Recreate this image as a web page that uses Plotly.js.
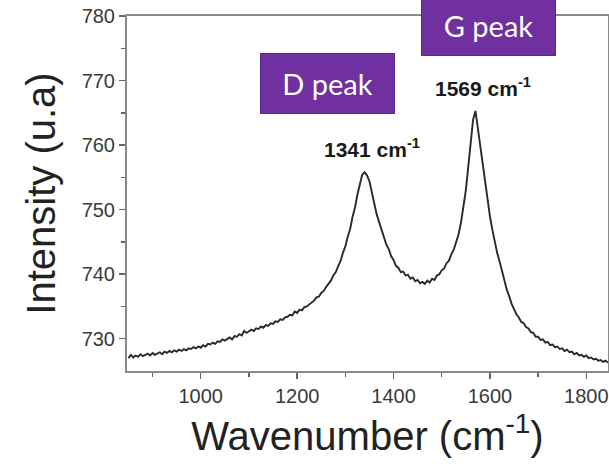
<!DOCTYPE html>
<html>
<head>
<meta charset="utf-8">
<script src="https://cdn.plot.ly/plotly-3.0.1.min.js"></script>
<style>html,body{margin:0;padding:0;background:#fff;}#chart{width:609px;height:466px;}</style>
</head>
<body>
<div id="chart"></div>
<script>
// Wavenumber axis (cm^-1), sampled every 5 cm^-1
const wavenumberStart = 850;
const wavenumberStep = 5;
const intensity = [
727.0,727.5,727.1,727.4,727.2,727.6,727.3,727.5,727.7,727.4,
727.8,727.5,727.7,727.9,727.6,728.0,727.8,728.1,727.9,728.2,
728.0,728.3,728.1,728.4,728.2,728.5,728.4,728.7,728.5,728.8,
728.6,729.0,728.8,729.2,729.1,729.4,729.2,729.6,729.5,729.9,
729.7,730.0,730.2,729.9,730.4,730.3,730.7,730.5,731.2,730.9,
731.1,731.4,731.2,731.6,731.5,731.9,731.7,732.1,732.0,732.4,
732.3,732.7,732.6,733.0,732.9,733.3,733.4,733.7,733.6,734.2,
734.0,734.5,734.4,734.9,735.0,735.3,735.7,735.9,736.4,736.5,
737.1,737.4,738.0,738.5,739.0,739.8,740.3,741.2,742.0,743.3,
744.3,745.8,747.0,748.9,750.3,752.3,754.0,755.4,755.8,755.3,
754.4,752.6,751.2,749.3,748.1,746.8,745.9,744.6,743.9,742.8,
742.2,741.3,741.0,740.3,740.4,739.8,739.9,739.3,739.5,738.9,
739.1,738.6,738.8,738.5,739.0,738.7,739.3,739.1,739.8,740.0,
740.6,740.9,741.7,742.1,743.1,743.8,745.0,746.2,748.0,750.2,
753.0,756.6,760.5,763.9,765.3,762.6,759.4,756.9,754.0,751.5,
749.0,746.9,745.0,743.3,742.0,740.4,739.2,737.6,736.6,735.4,
734.6,733.8,733.3,732.6,732.4,731.8,731.6,731.0,730.9,730.3,
730.3,729.8,729.9,729.4,729.5,729.0,729.1,728.7,728.8,728.4,
728.5,728.1,728.3,727.9,728.0,727.6,727.8,727.4,727.5,727.2,
727.4,727.0,727.1,726.8,726.9,726.6,726.7,726.4,726.6,726.3
];
const wavenumber = intensity.map((_, i) => wavenumberStart + i * wavenumberStep);

const xRange = [847, 1845];
const yRange = [725, 780];
const xTickVals = [1000, 1200, 1400, 1600, 1800];
const yTickVals = [730, 740, 750, 760, 770, 780];

const peakLabels = ["1341 cm<sup>-1</sup>", "1569 cm<sup>-1</sup>"];
const peakLabelX = [1356, 1586];
const peakLabelY = [759.6, 769.0];

const boxLabels = ["D peak", "G peak"];
const boxX = [1263, 1597];
const boxY = [769.5, 778.5];

const trace = {
  x: wavenumber,
  y: intensity,
  type: 'scatter',
  mode: 'lines',
  line: {color: '#2a2a2a', width: 1.9},
  hoverinfo: 'skip'
};

const axisCommon = {
  showline: true,
  linecolor: '#8a8a8a',
  linewidth: 2,
  mirror: true,
  showgrid: false,
  zeroline: false,
  ticks: 'outside',
  ticklen: 6,
  tickwidth: 1.5,
  tickcolor: '#666',
  tickfont: {family: 'Liberation Sans, Arial, sans-serif', size: 20, color: '#3a3a3a'},
};

const annotations = [];
for (let i = 0; i < peakLabels.length; i++) {
  annotations.push({
    x: peakLabelX[i], y: peakLabelY[i], xref: 'x', yref: 'y',
    text: peakLabels[i], showarrow: false,
    font: {family: 'Liberation Sans, Arial, sans-serif', size: 21, color: '#1a1a1a', weight: 'bold'},
    xanchor: 'center', yanchor: 'middle'
  });
}
for (let i = 0; i < boxLabels.length; i++) {
  annotations.push({
    x: boxX[i], y: boxY[i], xref: 'x', yref: 'y',
    text: boxLabels[i], showarrow: false,
    font: {family: 'Lato, Open Sans, sans-serif', size: 29, color: '#ffffff'},
    bgcolor: '#7030a0', bordercolor: '#5c2589', borderwidth: 1, borderpad: 0,
    width: 133, height: 59, align: 'center', valign: 'middle',
    xanchor: 'center', yanchor: 'middle'
  });
}

const layout = {
  width: 609, height: 466,
  margin: {l: 127, r: 1, t: 16, b: 95},
  paper_bgcolor: '#ffffff', plot_bgcolor: '#ffffff',
  showlegend: false,
  xaxis: Object.assign({}, axisCommon, {
    range: xRange,
    tickvals: xTickVals,
    ticktext: xTickVals.map(String),
    minor: {ticks: 'outside', ticklen: 4, tickcolor: '#666', tickwidth: 1.5, tickvals: [900, 1100, 1300, 1500, 1700]},
    title: {text: 'Wavenumber (cm<sup>-1</sup>)', font: {family: 'Liberation Sans, Arial, sans-serif', size: 40, color: '#222'}, standoff: 16}
  }),
  yaxis: Object.assign({}, axisCommon, {
    range: yRange,
    tickvals: yTickVals,
    ticktext: yTickVals.map(String),
    minor: {ticks: 'outside', ticklen: 4, tickcolor: '#666', tickwidth: 1.5, tickvals: [735, 745, 755, 765, 775]},
    title: {text: 'Intensity (u.a)', font: {family: 'Liberation Sans, Arial, sans-serif', size: 40, color: '#222'}, standoff: 14}
  }),
  annotations: annotations
};

Plotly.newPlot('chart', [trace], layout, {staticPlot: true, displayModeBar: false});
</script>
</body>
</html>
